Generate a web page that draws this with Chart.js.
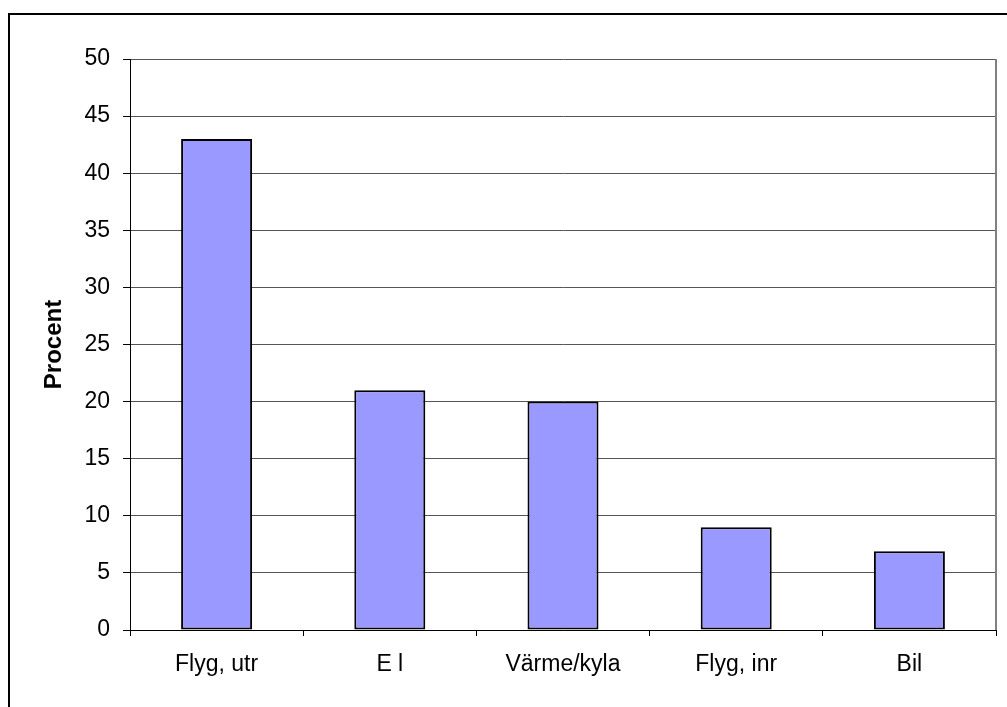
<!DOCTYPE html>
<html>
<head>
<meta charset="utf-8">
<script src="https://cdn.jsdelivr.net/npm/chart.js@4/dist/chart.umd.min.js"></script>
<style>
html,body{margin:0;padding:0;background:#fff;}
#wrap{width:1007px;height:707px;position:relative;}
</style>
</head>
<body>
<div id="wrap"><canvas id="c"></canvas></div>
<script>
const categories = ["Flyg, utr", "E l", "Värme/kyla", "Flyg, inr", "Bil"];
const values = [43, 21, 20, 9, 6.9];
const yAxisTitle = "Procent";
const yMin = 0, yMax = 50, yStep = 5;

const framePlugin = {
  id: 'frame',
  beforeDraw(chart) {
    const ctx = chart.ctx;
    ctx.save();
    ctx.fillStyle = '#fff';
    ctx.fillRect(0, 0, chart.width, chart.height);
    ctx.restore();
  },
  afterDraw(chart) {
    const ctx = chart.ctx;
    const a = chart.chartArea;
    ctx.save();
    ctx.strokeStyle = '#000';
    ctx.lineWidth = 2;
    ctx.strokeRect(9, 14, chart.width + 20, chart.height + 20);
    ctx.strokeStyle = '#808080';
    ctx.lineWidth = 2;
    ctx.beginPath();
    ctx.moveTo(a.right, a.top);
    ctx.lineTo(a.right, a.bottom);
    ctx.stroke();
    ctx.restore();
  }
};

Chart.defaults.font.family = "'Liberation Sans', Arial, sans-serif";
Chart.defaults.color = '#000';

new Chart(document.getElementById('c'), {
  type: 'bar',
  data: {
    labels: categories,
    datasets: [{
      data: values,
      backgroundColor: '#9999FF',
      borderColor: '#000',
      borderWidth: 2,
      borderSkipped: false,
      barPercentage: 0.41,
      categoryPercentage: 1.0
    }]
  },
  options: {
    responsive: true,
    maintainAspectRatio: false,
    animation: false,
    devicePixelRatio: 1,
    layout: { padding: { left: 0, top: 59, right: 11, bottom: 0 } },
    plugins: { legend: { display: false }, tooltip: { enabled: false } },
    scales: {
      x: {
        offset: true,
        grid: { offset: true, drawOnChartArea: false, drawTicks: true, tickLength: 6, tickColor: '#000', tickWidth: 1 },
        border: { display: true, color: '#000', width: 1 },
        ticks: { font: { size: 23 }, padding: 15, color: '#000', maxRotation: 0, autoSkip: false },
        afterFit(scale) { scale.height = 77; }
      },
      y: {
        min: yMin, max: yMax,
        ticks: { stepSize: yStep, font: { size: 23 }, padding: 13, color: '#000' },
        grid: { color: '#555', lineWidth: 1, tickLength: 7, tickColor: '#000', tickWidth: 1 },
        border: { display: true, color: '#000', width: 1 },
        title: { display: true, text: yAxisTitle, font: { size: 24, weight: 'bold' }, color: '#000', padding: { top: 40, bottom: 0 } },
        afterFit(scale) { scale.width = 130; }
      }
    }
  },
  plugins: [framePlugin]
});
</script>
</body>
</html>
